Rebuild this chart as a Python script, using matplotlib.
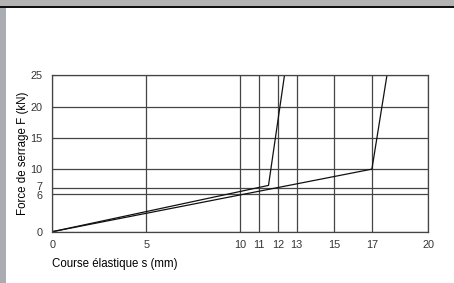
import matplotlib.pyplot as plt
import matplotlib.transforms as mtransforms
from matplotlib.patches import Rectangle

# spring characteristic curves (course s in mm, force F in kN)
s_a = [0, 11.5, 12.35]
f_a = [0, 7.4, 25]
s_b = [0, 17, 17.8]
f_b = [0, 10, 25]

x_ticks = [0, 5, 10, 11, 12, 13, 15, 17, 20]
y_ticks = [0, 6, 7, 10, 15, 20, 25]

plt.rcParams['font.family'] = ['Liberation Sans', 'DejaVu Sans']

fig = plt.figure(figsize=(4.54, 2.83), dpi=100)

# page decorations: header band and left strip
fig.patches.append(Rectangle((0, 1 - 6 / 283), 1, 6 / 283, transform=fig.transFigure,
                             facecolor='#b3b3b3', edgecolor='none'))
fig.patches.append(Rectangle((0, 1 - 8 / 283), 1, 2 / 283, transform=fig.transFigure,
                             facecolor='#111111', edgecolor='none'))
fig.patches.append(Rectangle((0, 0), 6 / 454, 1 - 8 / 283, transform=fig.transFigure,
                             facecolor='#a9adb1', edgecolor='none'))

ax = fig.add_axes([0.1152, 0.1813, 0.8282, 0.5526])
ax.plot(s_a, f_a, color='#111111', lw=0.9)
ax.plot(s_b, f_b, color='#111111', lw=0.9)

ax.set_xlim(0, 20)
ax.set_ylim(0, 25)
ax.set_xticks(x_ticks)
ax.set_yticks(y_ticks)
ax.tick_params(length=0, labelsize=7.8, colors='#333333')
ax.tick_params(axis='x', pad=6)
ax.tick_params(axis='y', pad=7)
ax.grid(True, color='#444444', lw=0.9)
for sp in ax.spines.values():
    sp.set_color('#444444')
    sp.set_linewidth(0.9)

# nudge the close 6 / 7 labels apart a little
fig.canvas.draw()
for lab in ax.get_yticklabels():
    if lab.get_text() == '7':
        lab.set_transform(lab.get_transform() + mtransforms.ScaledTranslation(0, 1.2 / 72, fig.dpi_scale_trans))
    elif lab.get_text() == '6':
        lab.set_transform(lab.get_transform() + mtransforms.ScaledTranslation(0, -0.8 / 72, fig.dpi_scale_trans))

ax.set_xlabel('Course élastique s (mm)', fontsize=8.3, loc='left', labelpad=6)
ax.set_ylabel('Force de serrage F (kN)', fontsize=8.3, labelpad=1)

fig.savefig('out.png', dpi=100)
